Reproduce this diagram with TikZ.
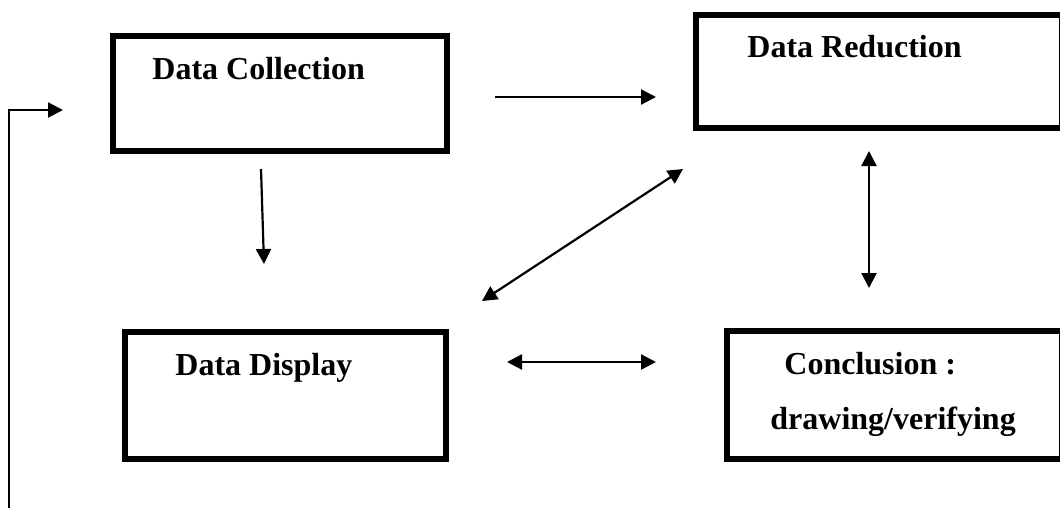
\documentclass[tikz,border=0pt]{standalone}
\usepackage{fontspec}
\setmainfont{Liberation Serif}
\usetikzlibrary{arrows.meta}
\tikzset{%
stagebox/.style={draw,line width=3.2pt,inner sep=0pt,outer sep=0pt},
stagetext/.style={anchor=base west,inner sep=0pt,font=\fontsize{16}{19}\selectfont\bfseries},
flow/.style={line width=1.1pt,-{Triangle[length=7.5pt,width=7.5pt]}},
bothflow/.style={line width=1.1pt,{Triangle[length=7.5pt,width=7.5pt]}-{Triangle[length=7.5pt,width=7.5pt]}},
}
\begin{document}
\begin{tikzpicture}[x=0.5pt,y=-0.5pt]
        \useasboundingbox (0,0) rectangle (1060,508);
        % boxes
        \node[stagebox,minimum width=166.75pt,minimum height=57.25pt] (collect) at (280,93.5) {};
        \node[stagebox,minimum width=183pt,minimum height=56.5pt] (reduce) at (879,71.5) {};
        \node[stagebox,minimum width=160.5pt,minimum height=63.5pt] (display) at (285.5,395.5) {};
        \node[stagebox,minimum width=167.5pt,minimum height=64pt] (conclude) at (894.5,395) {};
        % texts
        \node[stagetext] (collectT) at (152,80) {Data Collection};
        \node[stagetext] (reduceT) at (747,58) {Data Reduction};
        \node[stagetext] (displayT) at (175,375) {Data Display};
        \node[stagetext] (concludeT) at (784,374) {Conclusion :};
        \node[stagetext] (concludeU) at (770,429) {drawing/verifying};
        % arrow ends
        \coordinate (fbA) at (9,510);
        \coordinate (fbB) at (63,110);
        \coordinate (crA) at (495,97);
        \coordinate (crB) at (656,97);
        \coordinate (cdA) at (261,169);
        \coordinate (cdB) at (264,264);
        \coordinate (drA) at (482,301);
        \coordinate (drB) at (683,169);
        \coordinate (rcA) at (869,151);
        \coordinate (rcB) at (869,288);
        \coordinate (dcA) at (507,362);
        \coordinate (dcB) at (656,362);
        % arrows
        \draw[flow] (fbA) |- (fbB);
        \draw[flow] (crA) -- (crB);
        \draw[flow] (cdA) -- (cdB);
        \draw[bothflow] (drA) -- (drB);
        \draw[bothflow] (rcA) -- (rcB);
        \draw[bothflow] (dcA) -- (dcB);
\end{tikzpicture}
\end{document}
